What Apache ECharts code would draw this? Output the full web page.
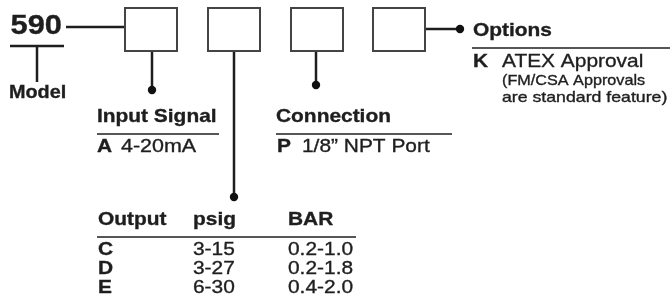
<!DOCTYPE html>
<html><head><meta charset="utf-8">
<script src="https://cdn.jsdelivr.net/npm/echarts@6/dist/echarts.min.js"></script>
<style>html,body{margin:0;padding:0;background:#fff}#c{width:670px;height:308px}</style>
</head><body><div id="c"></div>
<script>
// ---- content ----
const modelCode = '590';
const modelLabel = 'Model';
const inputTitle = 'Input Signal';
const inputCodes = ['A'];
const inputDesc = ['4-20mA'];
const connTitle = 'Connection';
const connCodes = ['P'];
const connDesc = ['1/8\u201D NPT Port'];
const outputHeaders = ['Output', 'psig', 'BAR'];
const outputCodes = ['C', 'D', 'E'];
const outputPsig = ['3-15', '3-27', '6-30'];
const outputBar = ['0.2-1.0', '0.2-1.8', '0.4-2.0'];
const optionsTitle = 'Options';
const optionCodes = ['K'];
const optionDesc = ['ATEX Approval'];
const optionNotes = ['(FM/CSA Approvals', 'are standard feature)'];

// ---- layout ----
const F = '"Liberation Sans", Arial, Helvetica, sans-serif';
const INK = '#1e1e1e';
const SX = 1.1;
const els = [];
function txt(x, y, s, size, bold, sx) {
  els.push({ type: 'text', x: x, y: y, scaleX: sx || SX, z: 10,
    style: { text: s, fontFamily: F, fontSize: size, fontWeight: bold ? 'bold' : 'normal',
      fill: INK, stroke: INK, lineWidth: 0.35, align: 'left', verticalAlign: 'middle' } });
}
function line(x1, y1, x2, y2, w) {
  els.push({ type: 'line', shape: { x1, y1, x2, y2 }, style: { stroke: INK, lineWidth: w || 2 } });
}
function dot(cx, cy) {
  els.push({ type: 'circle', shape: { cx, cy, r: 4.2 }, style: { fill: '#111' }, z: 5 });
}
function box(x, y, w, h) {
  els.push({ type: 'rect', shape: { x, y, width: w, height: h }, style: { fill: '#fff', stroke: '#444', lineWidth: 2 }, z: 4 });
}

// model
txt(10.5, 26.5, modelCode, 28, true);
line(10, 46, 64, 46, 2.5);
line(37, 46, 37, 82, 2.5);
txt(9, 93, modelLabel, 18, true);
line(66, 27, 125, 27, 2.5);

// boxes
const boxX = [125, 208, 291, 373];
boxX.forEach(x => box(x, 8, 52, 43));

// stems
line(152, 51, 152, 90, 2.5); dot(152, 90);
line(234, 51, 234, 197, 2.5); dot(234, 197);
line(316, 51, 316, 85, 2.5); dot(316, 85);
line(425, 29, 459, 29, 2.5); dot(460, 29);

// input signal
txt(97, 117, inputTitle, 19, true);
line(97, 134, 219, 134, 1.5);
inputCodes.forEach((c, i) => { txt(97, 147 + i * 19, c, 19, true); txt(121, 147 + i * 19, inputDesc[i], 19, false, 1.13); });

// connection
txt(276, 117, connTitle, 19, true);
line(276, 134, 452, 134, 1.5);
connCodes.forEach((c, i) => { txt(277, 147 + i * 19, c, 19, true); txt(302, 147 + i * 19, connDesc[i], 19, false); });

// output table
const colX = [98, 193, 288];
outputHeaders.forEach((h, i) => txt(colX[i], 220, h, 19, true));
line(97, 237, 356, 237, 1.5);
outputCodes.forEach((c, i) => {
  const y = 250 + i * 19;
  txt(colX[0], y, c, 19, true);
  txt(colX[1], y, outputPsig[i], 19, false);
  txt(colX[2], y, outputBar[i], 19, false);
});

// options
txt(473, 31, optionsTitle, 19, true);
line(472, 48, 670, 48, 1.5);
optionCodes.forEach((c, i) => { txt(473, 62, c, 19, true); txt(502, 62, optionDesc[i], 19, false); });
optionNotes.forEach((n, i) => txt(502, 81 + i * 16.5, n, 15, false, i === 1 ? 1.18 : 1.08));

const chart = echarts.init(document.getElementById('c'), null, { renderer: 'canvas' });
chart.setOption({ animation: false, backgroundColor: '#fff', graphic: { elements: els } });
</script></body></html>
